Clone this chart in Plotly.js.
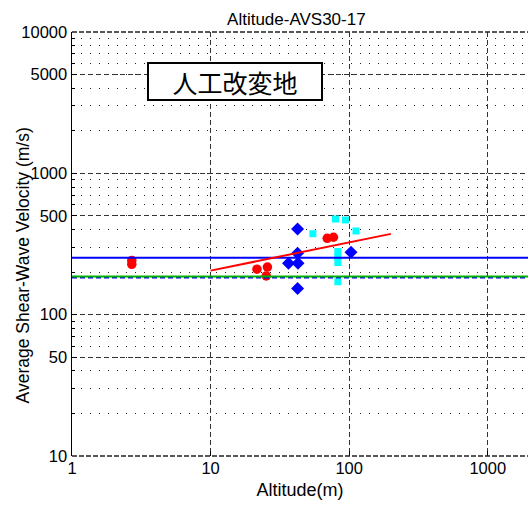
<!DOCTYPE html>
<html>
<head>
<meta charset="utf-8">
<script src="https://cdn.plot.ly/plotly-3.0.1.min.js"></script>
<style>html,body{margin:0;padding:0;background:#fff;}#chart{width:528px;height:508px;}</style>
</head>
<body>
<div id="chart"></div>
<script>
// Data
const redX = [2.7, 2.7, 21.6, 25.7, 25.2, 69.4, 77];
const redY = [242, 227, 210, 217, 188, 347, 353];
const blueX = [42.4, 36.5, 42.7, 42.4, 42.4, 103];
const blueY = [403, 231, 231, 272, 153, 277];
const cyanX = [79.6, 94, 54.7, 112, 82.8, 82.8, 82.8, 82.8];
const cyanY = [475, 468, 374, 391, 280, 256, 234, 171];
const fitX = [10, 200];
const fitY = [205, 373];
const lineX = [1, 2000];
const blueLevel = [253, 253];
const greenLevel = [186, 186];
const blueDashLevel = [183, 183];
const yTicks = [10, 50, 100, 500, 1000, 5000, 10000];
const yTickText = ['10', '50', '100', '500', '1000', '5000', '10000'];
const xTicks = [1, 10, 100, 1000];
const xTickText = ['1', '10', '100', '1000'];

const font = 'Liberation Sans, Arial, sans-serif';

const traces = [
  {x: cyanX, y: cyanY, mode: 'markers', type: 'scatter',
   marker: {symbol: 'square', size: 7, color: '#00ffff'}},
  {x: blueX, y: blueY, mode: 'markers', type: 'scatter',
   marker: {symbol: 'diamond', size: 10, color: '#0000ff'}},
  {x: redX, y: redY, mode: 'markers', type: 'scatter',
   marker: {symbol: 'circle', size: 9.5, color: '#ff0000'}},
  {x: lineX, y: blueDashLevel, mode: 'lines', type: 'scatter',
   line: {color: '#0000ff', width: 2, dash: '5px,3px'}},
  {x: lineX, y: greenLevel, mode: 'lines', type: 'scatter',
   line: {color: '#00b000', width: 2}},
  {x: lineX, y: blueLevel, mode: 'lines', type: 'scatter',
   line: {color: '#0000ff', width: 2}},
  {x: fitX, y: fitY, mode: 'lines', type: 'scatter',
   line: {color: '#ff0000', width: 2}}
];

const layout = {
  width: 528, height: 508,
  margin: {l: 72, r: 0, t: 32, b: 52},
  paper_bgcolor: '#fff', plot_bgcolor: '#fff',
  showlegend: false,
  font: {family: font, color: '#000', size: 16},
  title: {text: 'Altitude-AVS30-17', font: {family: font, size: 17, color: '#000'},
          x: 0.492, xref: 'paper', xanchor: 'center', y: 0.974, yanchor: 'top'},
  xaxis: {
    type: 'log', range: [0, Math.log10(1950)],
    tickvals: xTicks, ticktext: xTickText,
    ticks: 'inside', ticklen: 5, tickcolor: '#000',
    showgrid: true, gridcolor: '#333', griddash: '5px,3px', gridwidth: 1,
    showline: false, zeroline: false,
    tickfont: {family: font, size: 16.5},
    title: {text: 'Altitude(m)', font: {family: font, size: 18}, standoff: 7}
  },
  yaxis: {
    type: 'log', range: [1, 4],
    tickvals: yTicks, ticktext: yTickText,
    ticks: 'inside', ticklen: 5, tickcolor: '#000',
    showgrid: true, gridcolor: '#333', griddash: '5px,3px', gridwidth: 1,
    showline: true, linecolor: '#000', linewidth: 1.5, mirror: false,
    zeroline: false,
    minor: {dtick: 'D1', ticks: 'inside', ticklen: 3, tickcolor: '#000',
            showgrid: true, gridcolor: '#222', griddash: '1px,8px', gridwidth: 1},
    tickfont: {family: font, size: 16.5}
  },
  shapes: [
    {type: 'line', xref: 'paper', yref: 'paper', x0: 0, x1: 1, y0: 1, y1: 1,
     line: {color: '#222', width: 1.5, dash: '5px,2px'}},
    {type: 'line', xref: 'paper', yref: 'paper', x0: 0, x1: 1, y0: 0, y1: 0,
     line: {color: '#222', width: 1.5, dash: '5px,2px'}}
  ],
  annotations: [
    {text: 'Average Shear-Wave Velocity (m/s)', xref: 'paper', yref: 'paper',
     x: -0.107, y: 0.45, xanchor: 'center', yanchor: 'middle', textangle: -90,
     showarrow: false, font: {family: font, size: 17.5, color: '#000'}},
    {text: '人工改変地', xref: 'paper', yref: 'paper', x: 0.357, y: 0.884,
     xanchor: 'center', yanchor: 'middle', showarrow: false,
     font: {family: 'Noto Sans CJK JP, sans-serif', size: 25, color: '#000'},
     bgcolor: '#fff', bordercolor: '#000', borderwidth: 2, borderpad: 1,
     width: 170, height: 33}
  ]
};

Plotly.newPlot('chart', traces, layout, {displayModeBar: false, staticPlot: true});
</script>
</body>
</html>
